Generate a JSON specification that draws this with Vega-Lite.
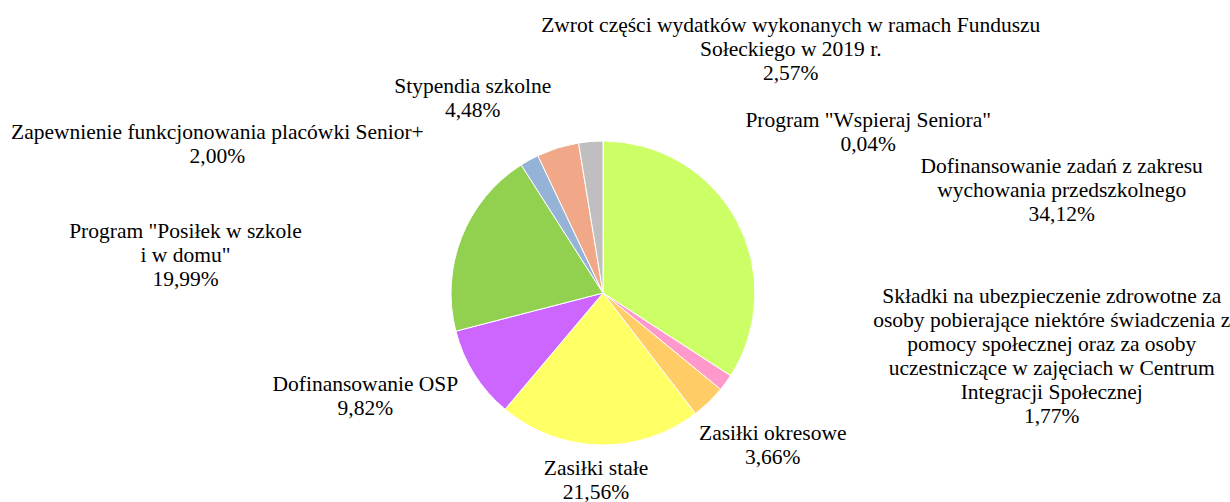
{
  "$schema": "https://vega.github.io/schema/vega-lite/v6.json",
  "width": 1206,
  "height": 418,
  "autosize": {"type": "none"},
  "padding": {"left": 0, "top": 84, "right": 24, "bottom": 0},
  "background": "white",
  "view": {"stroke": null},
  "config": {"text": {"font": "Liberation Serif", "fontSize": 21.5, "lineHeight": 24, "lineBreak": "\n", "align": "center", "baseline": "alphabetic", "color": "#000000"}},
  "data": {"values": [
    {"i": 1, "cat": "Wspieraj", "value": 0.04, "label": "Program \"Wspieraj Seniora\"\n0,04%"},
    {"i": 2, "cat": "Przedszkole", "value": 34.12, "label": "Dofinansowanie zadań z zakresu\nwychowania przedszkolnego\n34,12%"},
    {"i": 3, "cat": "Skladki", "value": 1.77, "label": "Składki na ubezpieczenie zdrowotne za\nosoby pobierające niektóre świadczenia z\npomocy społecznej oraz za osoby\nuczestniczące w zajęciach w Centrum\nIntegracji Społecznej\n1,77%"},
    {"i": 4, "cat": "Okresowe", "value": 3.66, "label": "Zasiłki okresowe\n3,66%"},
    {"i": 5, "cat": "Stale", "value": 21.56, "label": "Zasiłki stałe\n21,56%"},
    {"i": 6, "cat": "OSP", "value": 9.82, "label": "Dofinansowanie OSP\n9,82%"},
    {"i": 7, "cat": "Posilek", "value": 19.99, "label": "Program \"Posiłek w szkole\ni w domu\"\n19,99%"},
    {"i": 8, "cat": "Senior", "value": 2.00, "label": "Zapewnienie funkcjonowania placówki Senior+\n2,00%"},
    {"i": 9, "cat": "Stypendia", "value": 4.48, "label": "Stypendia szkolne\n4,48%"},
    {"i": 10, "cat": "Zwrot", "value": 2.57, "label": "Zwrot części wydatków wykonanych w ramach Funduszu\nSołeckiego w 2019 r.\n2,57%"}
  ]},
  "encoding": {
    "theta": {"field": "value", "type": "quantitative", "stack": true},
    "order": {"field": "i", "type": "quantitative"},
    "detail": {"field": "cat", "type": "nominal"}
  },
  "layer": [
    {
      "mark": {"type": "arc", "outerRadius": 152, "stroke": "white", "strokeWidth": 1},
      "encoding": {
        "color": {"field": "cat", "type": "nominal", "legend": null,
          "scale": {
            "domain": ["Wspieraj", "Przedszkole", "Skladki", "Okresowe", "Stale", "OSP", "Posilek", "Senior", "Stypendia", "Zwrot"],
            "range": ["#4F81BD", "#CCFF66", "#FF99CC", "#FFCC66", "#FFFF66", "#CC66FF", "#92D050", "#95B3D7", "#F0A888", "#BFBFBF"]
          }
        }
      }
    },
    {"mark": {"type": "text", "radius": 152, "dx": 265, "dy": -14},
     "encoding": {"text": {"condition": {"test": "datum.cat === 'Wspieraj'", "field": "label"}, "value": ""}}},
    {"mark": {"type": "text", "radius": 152, "dx": 325, "dy": -48},
     "encoding": {"text": {"condition": {"test": "datum.cat === 'Przedszkole'", "field": "label"}, "value": ""}}},
    {"mark": {"type": "text", "radius": 152, "dx": 326, "dy": -80},
     "encoding": {"text": {"condition": {"test": "datum.cat === 'Skladki'", "field": "label"}, "value": ""}}},
    {"mark": {"type": "text", "radius": 152, "dx": 64, "dy": 38},
     "encoding": {"text": {"condition": {"test": "datum.cat === 'Okresowe'", "field": "label"}, "value": ""}}},
    {"mark": {"type": "text", "radius": 152, "dx": -3.5, "dy": 30},
     "encoding": {"text": {"condition": {"test": "datum.cat === 'Stale'", "field": "label"}, "value": ""}}},
    {"mark": {"type": "text", "radius": 152, "dx": -109, "dy": 17},
     "encoding": {"text": {"condition": {"test": "datum.cat === 'OSP'", "field": "label"}, "value": ""}}},
    {"mark": {"type": "text", "radius": 152, "dx": -276, "dy": 1},
     "encoding": {"text": {"condition": {"test": "datum.cat === 'Posilek'", "field": "label"}, "value": ""}}},
    {"mark": {"type": "text", "radius": 152, "dx": -312, "dy": -21},
     "encoding": {"text": {"condition": {"test": "datum.cat === 'Senior'", "field": "label"}, "value": ""}}},
    {"mark": {"type": "text", "radius": 152, "dx": -85, "dy": -55},
     "encoding": {"text": {"condition": {"test": "datum.cat === 'Stypendia'", "field": "label"}, "value": ""}}},
    {"mark": {"type": "text", "radius": 152, "dx": 200, "dy": -109.5},
     "encoding": {"text": {"condition": {"test": "datum.cat === 'Zwrot'", "field": "label"}, "value": ""}}}
  ]
}
